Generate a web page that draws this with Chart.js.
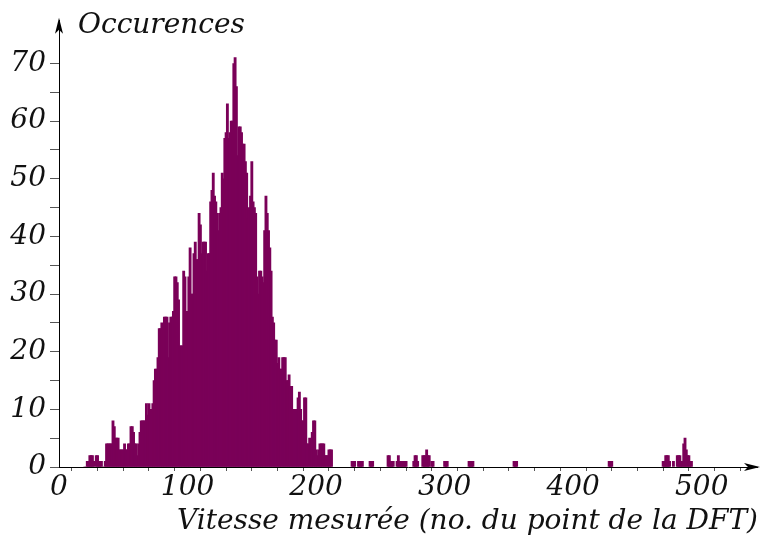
<!DOCTYPE html>
<html>
<head>
<meta charset="utf-8">
<script src="https://cdn.jsdelivr.net/npm/chart.js@4.4.1/dist/chart.umd.min.js"></script>
<style>
  html, body { margin: 0; padding: 0; background: #fff; }
</style>
</head>
<body>
<canvas id="histo" width="761" height="536"></canvas>
<script>
// Histogram of measured speed (DFT bin index), one bar per integer bin
var binStart = 20;
var counts = [
    0, 0, 1, 1, 2, 2, 2, 1, 0, 2,
    2, 1, 1, 1, 0, 0, 1, 4, 4, 4,
    4, 4, 8, 7, 5, 5, 5, 3, 3, 3,
    3, 4, 3, 3, 4, 4, 7, 7, 6, 4,
    4, 2, 4, 6, 8, 8, 8, 8, 11, 9,
    11, 10, 10, 11, 15, 17, 17, 19, 24, 24,
    25, 23, 26, 26, 26, 19, 25, 26, 26, 27,
    33, 33, 32, 29, 21, 21, 21, 34, 33, 27,
    27, 33, 38, 30, 30, 37, 39, 36, 36, 44,
    42, 37, 39, 39, 39, 34, 37, 37, 46, 48,
    51, 47, 46, 44, 41, 44, 45, 51, 50, 57,
    58, 63, 57, 58, 60, 60, 70, 71, 66, 54,
    59, 59, 58, 56, 56, 53, 51, 43, 45, 47,
    53, 46, 45, 44, 33, 30, 34, 34, 33, 32,
    41, 47, 44, 41, 38, 34, 26, 25, 22, 22,
    18, 19, 17, 17, 19, 19, 19, 15, 15, 16,
    14, 14, 10, 10, 10, 10, 12, 13, 10, 8,
    8, 12, 12, 4, 4, 5, 4, 6, 8, 8,
    3, 2, 3, 4, 4, 4, 4, 2, 2, 2,
    3, 3, 3
];
// sparse tail, bin index -> count
var tailBins = [228, 229, 230, 233, 234, 235, 236, 242, 243, 244,
    256, 257, 258, 259, 260, 263, 264, 265, 266, 267, 268, 269, 270,
    276, 277, 278, 279, 283, 284, 285, 286, 287, 288, 290, 291,
    300, 301, 302, 319, 320, 321, 322, 354, 355, 356, 428, 429, 430,
    470, 471, 472, 473, 474, 475, 478,
    481, 482, 483, 484, 485, 486, 487, 488, 489, 490, 491, 492];
var tailCounts = [1, 1, 1, 1, 1, 1, 1, 1, 1, 1,
    2, 2, 1, 1, 1, 1, 2, 1, 1, 1, 1, 1, 1,
    1, 2, 2, 1, 2, 2, 2, 3, 2, 2, 1, 1,
    1, 1, 1, 1, 1, 1, 1, 1, 1, 1, 1, 1, 1,
    1, 1, 2, 2, 2, 1, 1,
    2, 2, 2, 1, 1, 4, 5, 3, 2, 2, 1, 1];

var xLabel = 'Vitesse mesurée (no. du point de la DFT)';
var yLabel = 'Occurences';

var points = [];
counts.forEach(function (c, i) { points.push({ x: binStart + i, y: c }); });
tailBins.forEach(function (b, i) { points.push({ x: b, y: tailCounts[i] }); });

var serif = { family: 'DejaVu Serif', style: 'italic', size: 28 };
var barColor = '#7a0058';

// arrows at the axis ends + axis titles
var axisDecor = {
    id: 'axisDecor',
    afterDraw: function (chart) {
        var c = chart.ctx, a = chart.chartArea;
        c.save();
        c.fillStyle = '#000';
        // y arrow
        c.beginPath();
        c.moveTo(a.left, a.top - 3);
        c.lineTo(a.left - 4, a.top + 13);
        c.lineTo(a.left, a.top + 9);
        c.lineTo(a.left + 4, a.top + 13);
        c.closePath();
        c.fill();
        // x arrow
        c.beginPath();
        c.moveTo(a.right + 3, a.bottom);
        c.lineTo(a.right - 13, a.bottom - 4);
        c.lineTo(a.right - 9, a.bottom);
        c.lineTo(a.right - 13, a.bottom + 4);
        c.closePath();
        c.fill();
        c.font = 'italic 28px "DejaVu Serif"';
        c.fillStyle = '#111';
        c.textBaseline = 'alphabetic';
        c.textAlign = 'left';
        c.fillText(yLabel, a.left + 19, 33);
        c.textAlign = 'right';
        c.fillText(xLabel, 758, 529);
        c.restore();
    }
};

var ctx = document.getElementById('histo').getContext('2d');
var histo = new Chart(ctx, {
    type: 'bar',
    data: {
        datasets: [{
            data: points,
            backgroundColor: barColor,
            borderColor: barColor,
            borderWidth: 0,
            barThickness: 2.2
        }]
    },
    options: {
        responsive: false,
        animation: false,
        layout: { padding: { top: 15, right: 4, left: 0, bottom: 0 } },
        plugins: { legend: { display: false }, tooltip: { enabled: false } },
        scales: {
            x: {
                type: 'linear',
                offset: false,
                min: 0,
                max: 543,
                afterFit: function (s) { s.height = 69; },
                afterBuildTicks: function (s) {
                    s.ticks = s.ticks.filter(function (t) { return t.value % 20 === 0; });
                },
                ticks: {
                    stepSize: 20,
                    autoSkip: false,
                    maxRotation: 0,
                    padding: 0,
                    color: '#111',
                    font: serif,
                    callback: function (v) { return v % 100 === 0 ? v : ''; }
                },
                grid: { drawOnChartArea: false, tickLength: 4, tickColor: '#555' },
                border: { color: '#000', width: 1 }
            },
            y: {
                min: 0,
                max: 77.4,
                afterFit: function (s) { s.width = 59; },
                afterBuildTicks: function (s) {
                    s.ticks = s.ticks.filter(function (t) { return t.value % 5 === 0; });
                },
                ticks: {
                    stepSize: 5,
                    autoSkip: false,
                    padding: 4,
                    color: '#111',
                    font: serif,
                    callback: function (v) { return v % 10 === 0 ? v : ''; }
                },
                grid: { drawOnChartArea: false, tickLength: 9, tickColor: '#555' },
                border: { color: '#000', width: 1 }
            }
        }
    },
    plugins: [axisDecor]
});
</script>
</body>
</html>
